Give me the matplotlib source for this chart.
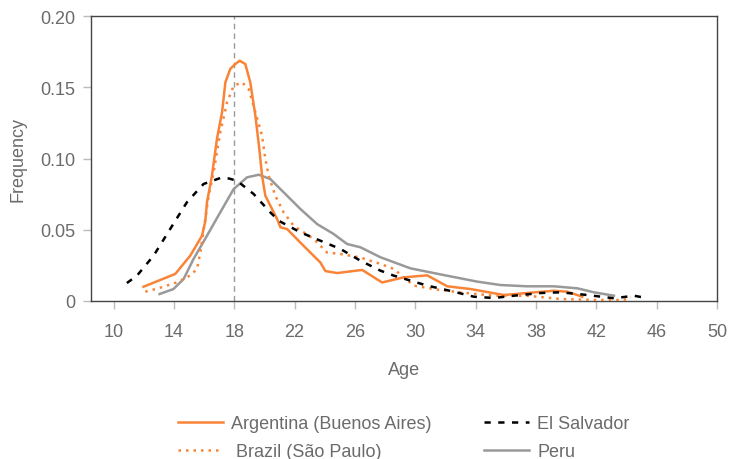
import matplotlib
matplotlib.use("Agg")
import matplotlib.pyplot as plt
from matplotlib.ticker import FuncFormatter

plt.rcParams['font.family'] = ['Liberation Sans', 'DejaVu Sans']

arg_age = [11.98, 14.09, 15.08, 15.41, 15.86, 16.08, 16.19, 16.52, 16.85, 17.19, 17.41, 17.74, 18.07, 18.36,
           18.73, 19.06, 19.4, 19.66, 19.84, 20.06, 20.5, 20.84, 21.06, 21.5, 22.38, 23.71, 24.04, 24.82,
           26.48, 27.8, 29.24, 30.79, 32.12, 33.66, 35.87, 37.42, 39.19, 40.08, 41.07]
arg_f = [0.0100, 0.019, 0.0318, 0.0377, 0.0458, 0.0560, 0.0693, 0.0879, 0.1137, 0.1324, 0.1535, 0.163, 0.1663,
         0.1686, 0.1663, 0.1535, 0.130, 0.1067, 0.0879, 0.0739, 0.0646, 0.0575, 0.0517, 0.0505, 0.041, 0.027,
         0.021, 0.0196, 0.0218, 0.013, 0.0166, 0.018, 0.0103, 0.0084, 0.0042, 0.0056, 0.0072, 0.0065, 0.003]

bra_age = [12.1, 13.0, 14.2, 15.1, 15.53, 15.75, 15.97, 16.3, 16.63, 17.07, 17.52, 17.96, 18.51, 18.95, 19.4,
           19.84, 20.06, 20.28, 20.72, 21.27, 21.94, 23.27, 24.15, 25.04, 26.36, 27.69, 28.57, 29.9, 31.45,
           33.0, 35.2, 37.42, 39.63, 41.84, 43.83, 44.28]
bra_f = [0.0065, 0.009, 0.0131, 0.018, 0.0225, 0.034, 0.050, 0.0739, 0.0903, 0.1184, 0.1394, 0.151, 0.1535,
         0.1488, 0.1324, 0.116, 0.0997, 0.0879, 0.0739, 0.0622, 0.0528, 0.0435, 0.034, 0.033, 0.0305, 0.026,
         0.0225, 0.0108, 0.008, 0.006, 0.0037, 0.0037, 0.0014, 0.0007, 0.0007, 0.003]

sal_age = [10.88, 11.55, 12.65, 13.75, 14.86, 15.96, 17.07, 17.63, 18.18, 19.28, 20.39, 20.95, 22.38, 23.71,
           25.04, 26.36, 27.69, 28.57, 30.79, 32.56, 33.88, 35.2, 36.53, 38.3, 39.63, 41.4, 43.17, 44.5, 45.05]
sal_f = [0.0126, 0.0178, 0.0318, 0.0505, 0.0693, 0.0821, 0.0863, 0.086, 0.0844, 0.0751, 0.0622, 0.0563,
         0.0482, 0.0423, 0.0365, 0.0283, 0.0213, 0.0178, 0.0108, 0.0065, 0.003, 0.0021, 0.0037, 0.0056,
         0.0061, 0.0042, 0.0019, 0.0037, 0.0026]

per_age = [13.05, 13.97, 14.64, 15.3, 16.19, 17.07, 17.96, 18.85, 19.62, 20.39, 21.05, 22.38, 23.49, 24.59,
           25.48, 26.36, 27.69, 29.68, 31.89, 34.1, 35.65, 37.42, 39.19, 40.74, 41.84, 43.17]
per_f = [0.0049, 0.0084, 0.0154, 0.0295, 0.0458, 0.0622, 0.0786, 0.0868, 0.0886, 0.0856, 0.0786, 0.0646,
         0.054, 0.047, 0.040, 0.0377, 0.0307, 0.0229, 0.0182, 0.0136, 0.0112, 0.0103, 0.0103, 0.0089, 0.0061,
         0.0037]

x_ticks = [10, 14, 18, 22, 26, 30, 34, 38, 42, 46, 50]
y_ticks = [0, 0.05, 0.10, 0.15, 0.20]
ref_age = 18

orange = '#F98437'
grey_line = '#999999'
text_c = '#6b6b6b'

fig = plt.figure(figsize=(7.29, 4.60), dpi=100)
ax = fig.add_axes([0.1248, 0.3435, 0.8587, 0.6195])

ax.axvline(ref_age, color='#999999', lw=1.0, ls=(0, (4, 3)), zorder=1)
ax.plot(arg_age, arg_f, color=orange, lw=1.8, label='Argentina (Buenos Aires)', zorder=3)
ax.plot(bra_age, bra_f, color=orange, lw=1.8, ls=(0, (1, 2)), label=' Brazil (São Paulo)', zorder=3)
ax.plot(sal_age, sal_f, color='black', lw=1.8, ls=(0, (2.5, 3)), label='El Salvador', zorder=3)
ax.plot(per_age, per_f, color=grey_line, lw=1.8, label='Peru', zorder=2)

ax.set_xlim(8.5, 50)
ax.set_ylim(0, 0.20)
ax.set_xticks(x_ticks)
ax.set_yticks(y_ticks)
ax.yaxis.set_major_formatter(FuncFormatter(lambda v, p: '0' if v == 0 else f'{v:.2f}'))

for s in ax.spines.values():
    s.set_color('#444444')
    s.set_linewidth(1.0)

ax.tick_params(axis='both', colors='#bbbbbb', labelcolor=text_c, labelsize=13, length=6, width=1)
ax.tick_params(axis='x', pad=10)
ax.tick_params(axis='y', pad=5)

ax.set_xlabel('Age', color=text_c, fontsize=13, labelpad=15)
ax.set_ylabel('Frequency', color=text_c, fontsize=13, labelpad=10)

handles, labels = ax.get_legend_handles_labels()
leg = fig.legend(handles, labels, ncol=2, loc='center', bbox_to_anchor=(0.554, 0.046),
                 frameon=False, fontsize=13, handlelength=2.5, columnspacing=2.9,
                 labelspacing=0.62, handletextpad=0.45)
for t in leg.get_texts():
    t.set_color(text_c)

fig.savefig('out.png', dpi=100)
